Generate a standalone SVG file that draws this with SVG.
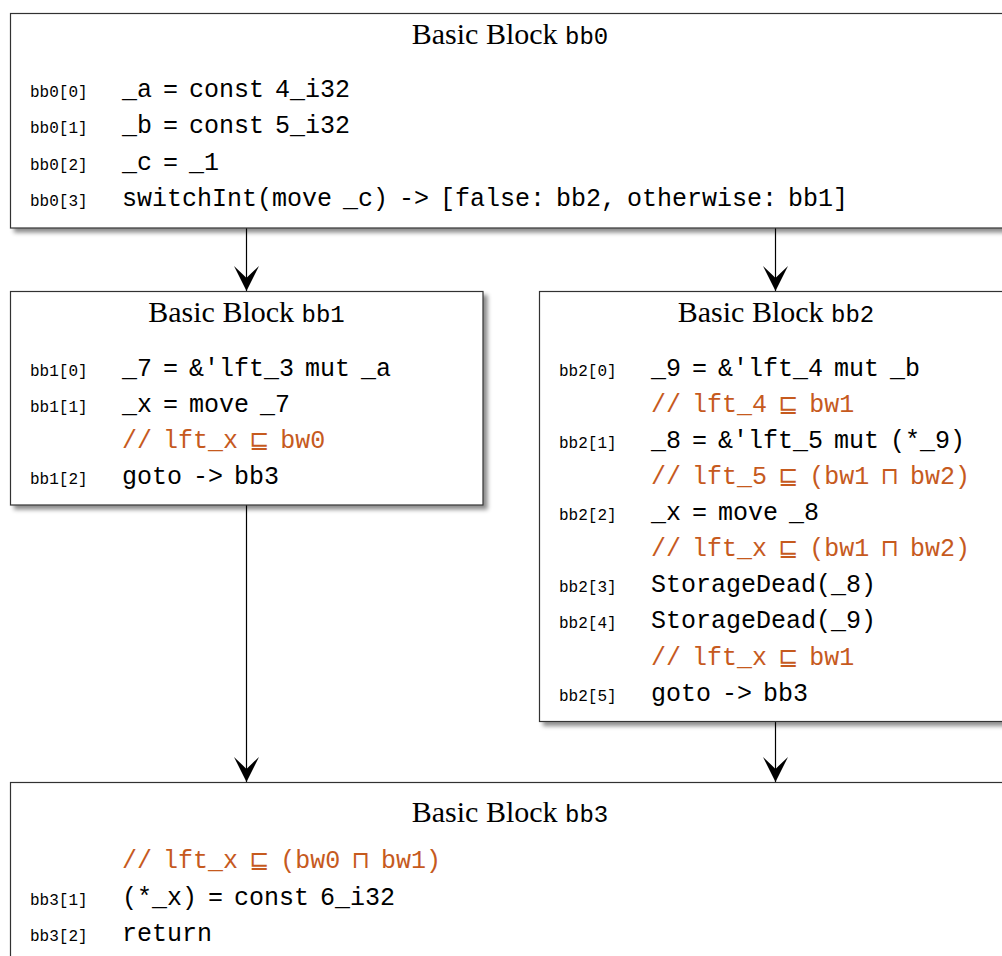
<svg xmlns="http://www.w3.org/2000/svg" width="1002" height="956" viewBox="0 0 1002 956">
<style>
.box{fill:#fff;stroke:#333;stroke-width:1.2}
.hd{font-family:"Liberation Serif",serif;font-size:30px;fill:#000}
.hm{font-family:"Liberation Mono",monospace;font-size:24px}
.lb{font-family:"Liberation Mono",monospace;font-size:16px;fill:#000}
.cd{font-family:"Liberation Mono",monospace;font-size:25px;fill:#000;word-spacing:-4px}
.cm{font-family:"Liberation Mono",monospace;font-size:25px;fill:#c65a1e;word-spacing:-4px}
.sym{font-family:"DejaVu Sans",sans-serif;font-size:24px}
.edge{stroke:#000;stroke-width:1.2;fill:none}
</style>
<defs>
<filter id="sh" x="-5%" y="-5%" width="115%" height="120%">
<feDropShadow dx="4" dy="4" stdDeviation="2" flood-color="#000" flood-opacity="0.45"/>
</filter>
<marker id="arr" viewBox="-26 -13 27 26" refX="0" refY="0" markerUnits="userSpaceOnUse" markerWidth="27" markerHeight="26" orient="auto">
<path d="M0,0 L-25,-12.5 Q-17,-4 -13,0 Q-17,4 -25,12.5 Z" fill="#000"/>
</marker>
</defs>
<g id="connectors">
<line class="edge" x1="246.5" y1="228" x2="246.5" y2="291" marker-end="url(#arr)"/>
<line class="edge" x1="775.5" y1="228" x2="775.5" y2="291" marker-end="url(#arr)"/>
<line class="edge" x1="246.5" y1="505" x2="246.5" y2="782" marker-end="url(#arr)"/>
<line class="edge" x1="775.5" y1="722" x2="775.5" y2="782" marker-end="url(#arr)"/>
</g>
<g id="bb0">
<rect class="box" x="10.5" y="13.5" width="1000" height="214.5" filter="url(#sh)"/>
<text class="hd" x="510" y="44" text-anchor="middle">Basic Block <tspan class="hm">bb0</tspan></text>
<text class="lb" x="30" y="97">bb0[0]</text><text class="cd" x="122" y="97">_a = const 4_i32</text>
<text class="lb" x="30" y="133">bb0[1]</text><text class="cd" x="122" y="133">_b = const 5_i32</text>
<text class="lb" x="30" y="170">bb0[2]</text><text class="cd" x="122" y="170">_c = _1</text>
<text class="lb" x="30" y="206">bb0[3]</text><text class="cd" x="122" y="206">switchInt(move _c) -&gt; [false: bb2, otherwise: bb1]</text>
</g>
<g id="bb1">
<rect class="box" x="10.5" y="291.5" width="472.5" height="213.5" filter="url(#sh)"/>
<text class="hd" x="246.5" y="322" text-anchor="middle">Basic Block <tspan class="hm">bb1</tspan></text>
<text class="lb" x="30" y="376">bb1[0]</text><text class="cd" x="122" y="376">_7 = &amp;'lft_3 mut _a</text>
<text class="lb" x="30" y="412">bb1[1]</text><text class="cd" x="122" y="412">_x = move _7</text>
<text class="cm" x="122" y="448">// lft_x <tspan class="sym">⊑</tspan> bw0</text>
<text class="lb" x="30" y="484">bb1[2]</text><text class="cd" x="122" y="484">goto -&gt; bb3</text>
</g>
<g id="bb2">
<rect class="box" x="539.5" y="291.5" width="474" height="430" filter="url(#sh)"/>
<text class="hd" x="776" y="322" text-anchor="middle">Basic Block <tspan class="hm">bb2</tspan></text>
<text class="lb" x="559" y="376">bb2[0]</text><text class="cd" x="651" y="376">_9 = &amp;'lft_4 mut _b</text>
<text class="cm" x="651" y="412">// lft_4 <tspan class="sym">⊑</tspan> bw1</text>
<text class="lb" x="559" y="448">bb2[1]</text><text class="cd" x="651" y="448">_8 = &amp;'lft_5 mut (*_9)</text>
<text class="cm" x="651" y="484">// lft_5 <tspan class="sym">⊑</tspan> (bw1 <tspan class="sym">⊓</tspan> bw2)</text>
<text class="lb" x="559" y="520">bb2[2]</text><text class="cd" x="651" y="520">_x = move _8</text>
<text class="cm" x="651" y="556">// lft_x <tspan class="sym">⊑</tspan> (bw1 <tspan class="sym">⊓</tspan> bw2)</text>
<text class="lb" x="559" y="592">bb2[3]</text><text class="cd" x="651" y="592">StorageDead(_8)</text>
<text class="lb" x="559" y="628">bb2[4]</text><text class="cd" x="651" y="628">StorageDead(_9)</text>
<text class="cm" x="651" y="665">// lft_x <tspan class="sym">⊑</tspan> bw1</text>
<text class="lb" x="559" y="701">bb2[5]</text><text class="cd" x="651" y="701">goto -&gt; bb3</text>
</g>
<g id="bb3">
<rect class="box" x="10.5" y="782.5" width="1000" height="200" filter="url(#sh)"/>
<text class="hd" x="510" y="822" text-anchor="middle">Basic Block <tspan class="hm">bb3</tspan></text>
<text class="cm" x="122" y="868">// lft_x <tspan class="sym">⊑</tspan> (bw0 <tspan class="sym">⊓</tspan> bw1)</text>
<text class="lb" x="30" y="905">bb3[1]</text><text class="cd" x="122" y="905">(*_x) = const 6_i32</text>
<text class="lb" x="30" y="941">bb3[2]</text><text class="cd" x="122" y="941">return</text>
</g>
</svg>
